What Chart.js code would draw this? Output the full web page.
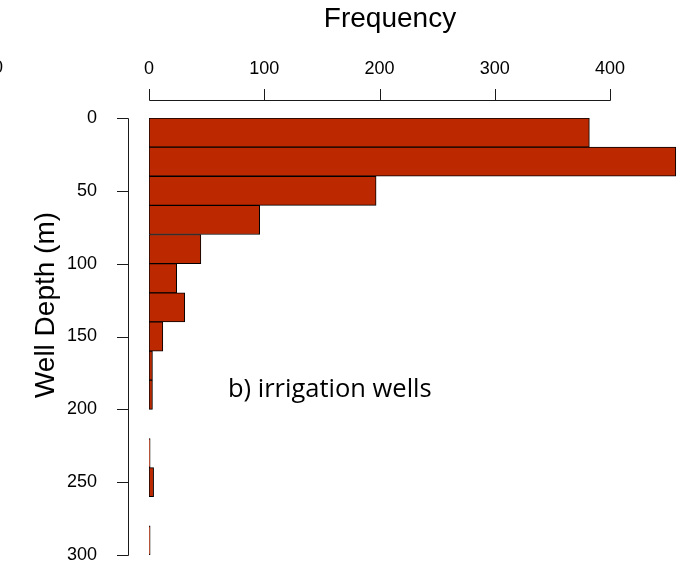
<!DOCTYPE html>
<html>
<head>
<meta charset="utf-8">
<script src="https://cdn.jsdelivr.net/npm/chart.js@4"></script>
<style>
  html, body { margin: 0; padding: 0; background: #ffffff; }
  #wrap { position: relative; width: 681px; height: 563px; }
</style>
</head>
<body>
<div id="wrap"><canvas id="c" width="681" height="563"></canvas></div>
<script>
// ---- data ----
const binStarts = [0, 20, 40, 60, 80, 100, 120, 140, 160, 180, 200, 220, 240, 260, 280];
const binWidth = 20;
const frequencies = [382, 457, 197, 96, 45, 24, 31, 12, 3, 3, 0, 1, 4, 0, 1];
const freqTicks = [0, 100, 200, 300, 400];
const depthTicks = [0, 50, 100, 150, 200, 250, 300];
const xTitle = "Frequency";
const yTitle = "Well Depth (m)";
const panelLabel = "b) irrigation wells";
const neighbourLabel = "0";

const axisFont = '"Liberation Sans", Arial, Helvetica, sans-serif';
const barFill = '#BC2900';

const points = binStarts.map((s, i) => ({ y: s + binWidth / 2, x: frequencies[i] }));

const rAxes = {
  id: 'rAxes',
  afterDraw(chart) {
    const ctx = chart.ctx;
    const xs = chart.scales.x, ys = chart.scales.y;
    ctx.save();
    ctx.strokeStyle = '#1a1a1a';
    ctx.lineWidth = 1;
    // top frequency axis (R style, offset from plot)
    const ax = 100.5;
    ctx.beginPath();
    ctx.moveTo(Math.round(xs.getPixelForValue(freqTicks[0])) + 0.5, ax);
    ctx.lineTo(Math.round(xs.getPixelForValue(freqTicks[freqTicks.length - 1])) + 0.5, ax);
    freqTicks.forEach(v => {
      const p = Math.round(xs.getPixelForValue(v)) + 0.5;
      ctx.moveTo(p, ax);
      ctx.lineTo(p, 89);
    });
    ctx.stroke();
    // left depth axis
    const ay = 128.5;
    ctx.beginPath();
    ctx.moveTo(ay, Math.round(ys.getPixelForValue(depthTicks[0])) + 0.5);
    ctx.lineTo(ay, Math.round(ys.getPixelForValue(depthTicks[depthTicks.length - 1])) + 0.5);
    depthTicks.forEach(v => {
      const p = Math.round(ys.getPixelForValue(v)) + 0.5;
      ctx.moveTo(ay, p);
      ctx.lineTo(117, p);
    });
    ctx.stroke();

    // axis titles
    ctx.fillStyle = '#000';
    ctx.font = '28px ' + axisFont;
    ctx.textAlign = 'center';
    ctx.textBaseline = 'alphabetic';
    ctx.fillText(xTitle, 390, 27);
    ctx.save();
    ctx.translate(54, 305);
    ctx.rotate(-Math.PI / 2);
    ctx.fillText(yTitle, 0, 0);
    ctx.restore();

    // cut-off tick label of the neighbouring panel
    ctx.font = '18px ' + axisFont;
    ctx.textAlign = 'center';
    ctx.fillText(neighbourLabel, -2, 73);

    // panel annotation
    ctx.font = '25.5px "Open Sans", "Noto Sans", sans-serif';
    ctx.textAlign = 'left';
    ctx.fillText(panelLabel, 228, 397);
    ctx.restore();
  }
};

new Chart(document.getElementById('c'), {
  type: 'bar',
  data: {
    datasets: [{
      data: points,
      backgroundColor: barFill,
      borderColor: '#000000',
      borderWidth: 1,
      borderSkipped: false,
      barPercentage: 1,
      categoryPercentage: 1
    }]
  },
  options: {
    indexAxis: 'y',
    responsive: false,
    animation: false,
    events: [],
    layout: { autoPadding: false, padding: { left: 0, top: 0, right: 0, bottom: 8 } },
    plugins: { legend: { display: false }, tooltip: { enabled: false } },
    scales: {
      x: {
        type: 'linear',
        position: 'top',
        offset: false,
        min: 0,
        max: 461.5,
        grid: { display: false },
        border: { display: false },
        afterBuildTicks: s => { s.ticks = freqTicks.map(v => ({ value: v })); },
        afterFit: s => { s.height = 118; s.paddingLeft = 0; s.paddingRight = 0; },
        ticks: {
          color: '#000',
          font: { family: axisFont, size: 18 },
          padding: 30,
          maxRotation: 0,
          autoSkip: false
        }
      },
      y: {
        type: 'linear',
        position: 'left',
        offset: false,
        reverse: true,
        min: 0,
        max: 300,
        grid: { display: false },
        border: { display: false },
        afterBuildTicks: s => { s.ticks = depthTicks.map(v => ({ value: v })); },
        afterFit: s => { s.width = 149; s.paddingTop = 0; s.paddingBottom = 0; },
        ticks: {
          color: '#000',
          font: { family: axisFont, size: 18 },
          padding: 44,
          autoSkip: false
        }
      }
    }
  },
  plugins: [rAxes]
});
</script>
</body>
</html>
